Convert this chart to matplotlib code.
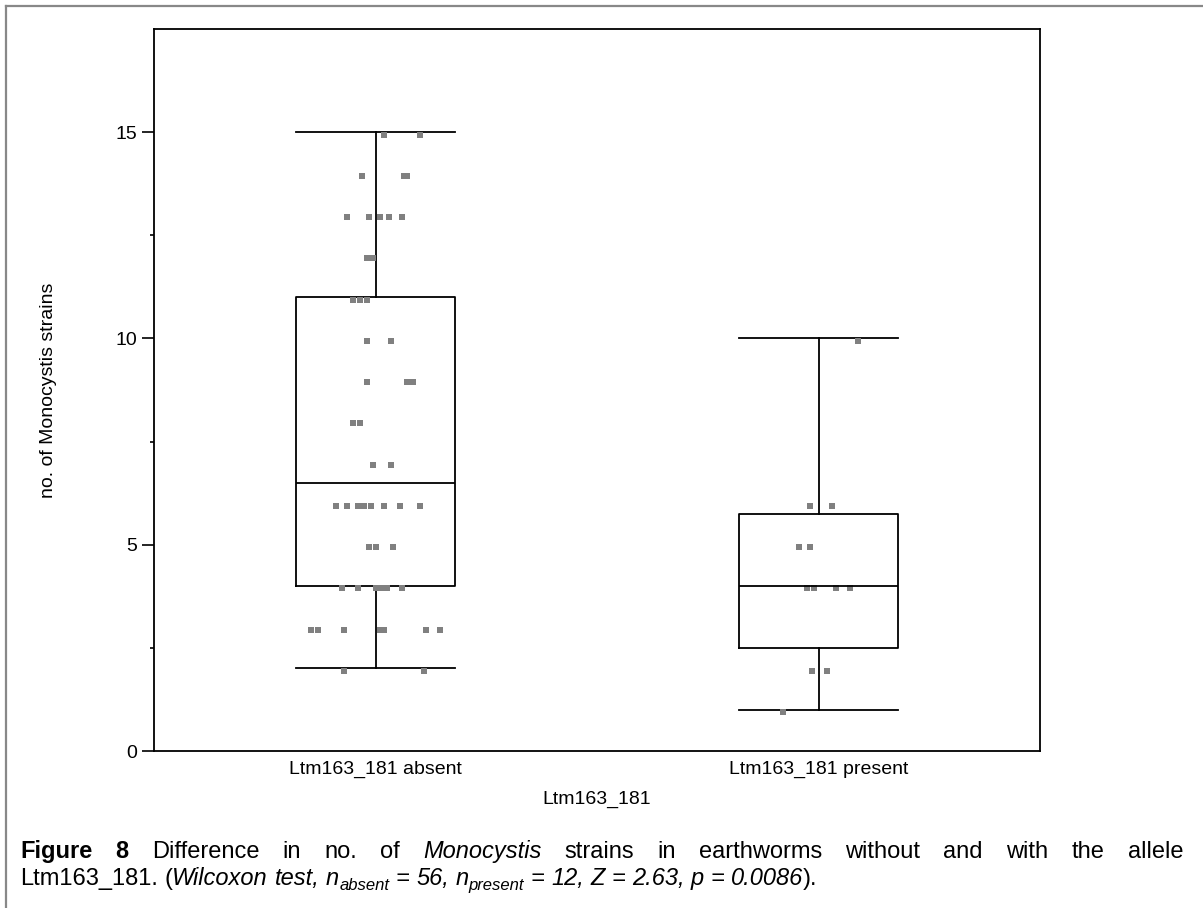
# -*- encoding: utf-8 -*-

import matplotlib
matplotlib.use("Agg")
import matplotlib.pyplot as plt
from matplotlib.lines import Line2D
from matplotlib.transforms import IdentityTransform, offset_copy


# values
groups = ["Ltm163_181 absent", "Ltm163_181 present"]

absent_y = [15, 15, 14, 14, 14, 13, 13, 13, 13, 13, 13, 12, 12, 11, 11, 11, 11,
            10, 10, 9, 9, 9, 9, 8, 8, 8, 7, 7,
            6, 6, 6, 6, 6, 6, 6, 6, 6, 6, 5, 5, 5,
            4, 4, 4, 4, 4, 4, 3, 3, 3, 3, 3, 3, 3, 2, 2]
absent_jit = [0.02, 0.10, -0.03, 0.065, 0.07, -0.065, -0.015, 0.01, 0.01, 0.03, 0.06,
              -0.02, -0.005, -0.05, -0.05, -0.035, -0.02,
              -0.02, 0.035, -0.02, 0.07, 0.07, 0.085, -0.05, -0.05, -0.035, -0.005, 0.035,
              -0.09, -0.065, -0.04, -0.025, -0.025, -0.01, -0.01, 0.02, 0.055, 0.10,
              -0.015, 0.0, 0.04,
              -0.075, -0.04, 0.0, 0.015, 0.025, 0.06,
              -0.145, -0.13, -0.07, 0.01, 0.02, 0.115, 0.145, -0.07, 0.11]

present_y = [10, 6, 6, 5, 5, 4, 4, 4, 4, 2, 2, 1]
present_jit = [0.09, -0.02, 0.03, -0.045, -0.02, -0.025, -0.01, 0.04, 0.07,
               -0.015, 0.02, -0.08]

# box statistics as shown
medians = [6.5, 4.0]
q1s = [4.0, 2.5]
q3s = [11.0, 5.75]
whis_lo = [2, 1]
whis_hi = [15, 10]

FONT = "Liberation Sans"
AXFS = 14          # chart text size
CAPFS = 17         # caption size


def put_words(fig, r, words, x0, y, x1=None, size=CAPFS):
    """place words left to right; justify between x0 and x1 if x1 given"""
    tr = IdentityTransform()
    arts = []
    for w, kw in words:
        t = fig.text(0, y, w, transform=tr, fontsize=kw.get("size", size),
                     fontweight=kw.get("weight", "normal"),
                     fontstyle=kw.get("style", "normal"),
                     family=FONT, va="baseline", ha="left")
        arts.append((t, kw))
    widths = [t.get_window_extent(r).width for t, kw in arts]
    space = size * 100 / 72 * 0.278
    if x1 is not None:
        gap = (x1 - x0 - sum(widths)) / (len(arts) - 1)
    x = x0
    for (t, kw), wd in zip(arts, widths):
        t.set_x(x)
        t.set_y(y + kw.get("dy", 0))
        if x1 is not None:
            x += wd + gap
        else:
            x += wd + (space if kw.get("sp", True) else 0)


def main():
    plt.rcParams["font.family"] = FONT
    fig = plt.figure(figsize=(12.03, 9.08), dpi=100)
    ax = fig.add_axes([154 / 1203, 1 - 751 / 908, (1040 - 154) / 1203, (751 - 29) / 908])

    stats = []
    for i in range(2):
        stats.append(dict(med=medians[i], q1=q1s[i], q3=q3s[i],
                          whislo=whis_lo[i], whishi=whis_hi[i], fliers=[]))
    lp = dict(color="black", linewidth=1.3)
    ax.bxp(stats, positions=[0, 1], widths=0.36, showfliers=False,
           boxprops=lp, whiskerprops=lp, capprops=lp, medianprops=lp,
           capwidths=0.36)

    # points sit a hair below their value in the original
    ptr = offset_copy(ax.transData, fig=fig, x=0, y=-2.5, units="dots")
    ax.plot([j for j in absent_jit], absent_y, "s", color="#808080",
            markersize=5, markeredgewidth=0, transform=ptr)
    ax.plot([1 + j for j in present_jit], present_y, "s", color="#808080",
            markersize=5, markeredgewidth=0, transform=ptr)

    ax.set_xlim(-0.5, 1.5)
    ax.set_ylim(0, 17.5)
    ax.set_xticks([0, 1])
    ax.set_xticklabels(groups)
    ax.set_yticks([0, 5, 10, 15])
    ax.set_yticks([2.5, 7.5, 12.5], minor=True)
    ax.tick_params(axis="x", length=0, pad=7, labelsize=AXFS)
    ax.tick_params(axis="y", which="major", length=9, width=1.2, pad=3, labelsize=AXFS)
    ax.tick_params(axis="y", which="minor", length=3, width=1.2)
    for s in ax.spines.values():
        s.set_linewidth(1.3)
    ax.set_ylabel("no. of Monocystis strains", fontsize=AXFS)
    ax.set_xlabel("Ltm163_181", fontsize=AXFS)
    ax.xaxis.set_label_coords(0.5, -0.055)
    ax.yaxis.set_label_coords(-0.11, 0.5)

    # page border (left and top only)
    fig.add_artist(Line2D([6, 6], [0, 902], transform=IdentityTransform(),
                          color="#888888", linewidth=1.6))
    fig.add_artist(Line2D([6, 1203], [902, 902], transform=IdentityTransform(),
                          color="#888888", linewidth=1.6))

    # caption
    r = fig.canvas.get_renderer()
    b = {"weight": "bold"}
    it = {"style": "italic"}
    n = {}
    line1 = [("Figure", b), ("8", b), ("Difference", n), ("in", n), ("no.", n),
             ("of", n), ("Monocystis", it), ("strains", n), ("in", n),
             ("earthworms", n), ("without", n), ("and", n), ("with", n),
             ("the", n), ("allele", n)]
    put_words(fig, r, line1, 20, 908 - 858, 1183)
    sub = {"style": "italic", "size": 12, "dy": -5}
    nosp = {"style": "italic", "sp": False}
    line2 = [("Ltm163_181.", n), ("(", {"sp": False}), ("Wilcoxon", it),
             ("test,", it), ("n", nosp), ("absent", sub), ("=", it), ("56,", it),
             ("n", nosp), ("present", sub), ("=", it), ("12,", it), ("Z", it),
             ("=", it), ("2.63,", it), ("p", it), ("=", it), ("0.0086", nosp),
             (").", n)]
    put_words(fig, r, line2, 20, 908 - 885)

    fig.savefig("out.png", dpi=100)


if __name__ == "__main__":
    main()
